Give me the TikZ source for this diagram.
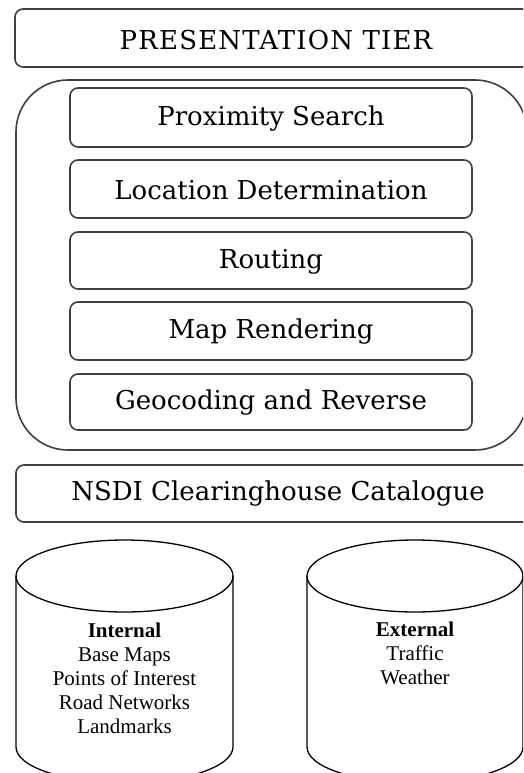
\documentclass[tikz,border=0pt]{standalone}
\usepackage{fontspec}
\setmainfont{DejaVu Serif}
\newfontfamily\cylfont{Liberation Serif}
\newfontfamily\titlefont[LetterSpace=4.5]{DejaVu Serif}
\begin{document}
\begin{tikzpicture}[x=1pt,y=-1pt,
  frame/.style={draw=black!75,line width=1.6pt,rounded corners=8pt},
  tierbox/.style={frame},
  svcbox/.style={frame},
  boxtext/.style={font=\fontsize{26}{30}\selectfont,inner sep=0pt},
  titletext/.style={font=\titlefont\fontsize{26}{30}\selectfont,inner sep=0pt},
  cyltext/.style={font=\cylfont\fontsize{21}{24}\selectfont,align=center,inner sep=0pt},
  cylline/.style={draw=black,line width=1.3pt}]
\useasboundingbox (0,0) rectangle (523,773);
\begin{scope}
\clip (0,0) rectangle (523,773);
% presentation tier
\draw[tierbox] (15,9) rectangle (537,67);
\node[titletext] (pt) at (276,40) {PRESENTATION TIER};
% services container
\draw[frame,rounded corners=52pt] (16,80) rectangle (527,450);
\foreach \n/\t/\b/\s in {ps/88/147/Proximity Search,
                         ld/160/218/Location Determination,
                         ro/232/289/Routing,
                         mr/302/360/Map Rendering,
                         gr/374/430/Geocoding and Reverse}{
  \draw[svcbox] (70,\t) rectangle (472,\b);
  \node[boxtext] (\n) at (271,{(\t+\b)/2+1}) {\s};
}
% NSDI
\draw[tierbox] (16,465) rectangle (537,522);
\node[boxtext] (nsdi) at (278,494) {NSDI Clearinghouse Catalogue};
% cylinders
\foreach \cx/\rx in {124.5/108.5,415/108}{
  \draw[cylline] (\cx,576) ellipse [x radius=\rx, y radius=36];
  \draw[cylline] (\cx-\rx,576) -- (\cx-\rx,747)
     arc[start angle=180,end angle=360,x radius=\rx,y radius=-36]
     -- (\cx+\rx,576);
}
\node[cyltext] (int) at (124.5,678) {\textbf{Internal}\\Base Maps\\Points of Interest\\Road Networks\\Landmarks};
\node[cyltext] (ext) at (415,653) {\textbf{External}\\Traffic\\Weather};
\end{scope}
\end{tikzpicture}
\end{document}
